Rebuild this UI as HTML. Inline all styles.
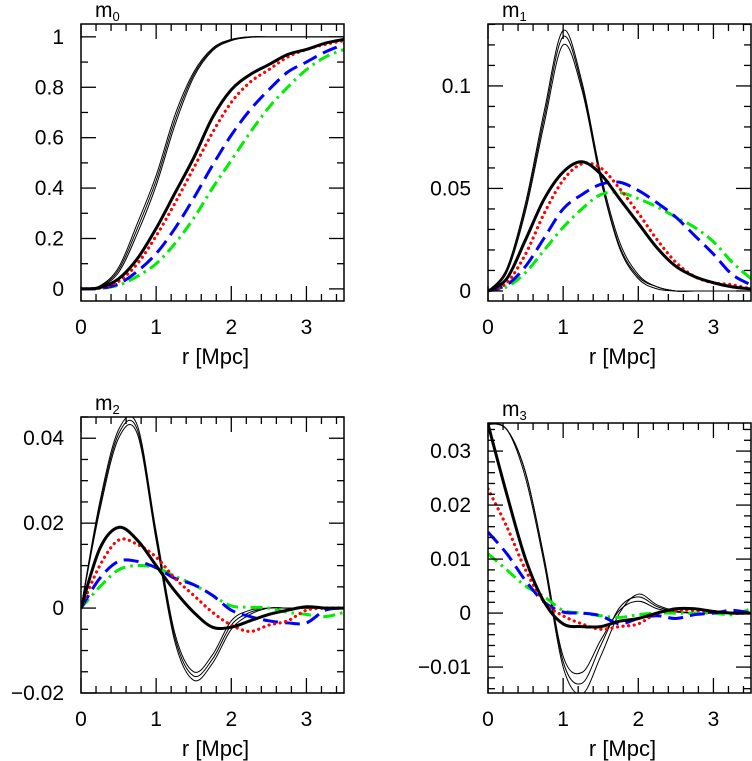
<!DOCTYPE html>
<html><head><meta charset="utf-8"><style>
html,body{margin:0;padding:0;background:#fff;}
svg{display:block;}
text{font-family:"Liberation Sans",sans-serif;fill:#000;}
</style></head><body>
<svg id="fig" width="752" height="761" viewBox="0 0 752 761" xmlns="http://www.w3.org/2000/svg"></svg>
<script>
const rGrid = [0,0.25,0.5,0.75,1.0,1.25,1.5,1.75,2.0,2.25,2.5,2.75,3.0,3.25,3.5];

// m0
const m0ThinA = [0,0.012,0.085,0.26,0.45,0.69,0.86,0.955,0.99,1,1,1,1,1,1];
const m0ThinB = [0,0.010,0.075,0.24,0.43,0.67,0.85,0.95,0.988,1,1,1,1,1,1];
const m0ThinC = [0,0.008,0.065,0.22,0.41,0.65,0.84,0.945,0.985,0.998,1,1,1,1,1];
const m0Thick = [0,0.005,0.04,0.12,0.24,0.38,0.52,0.68,0.79,0.85,0.89,0.93,0.95,0.975,0.99];
const m0Red   = [0,0.004,0.03,0.10,0.21,0.34,0.48,0.62,0.74,0.82,0.87,0.92,0.95,0.97,0.985];
const m0Blue  = [0,0.002,0.02,0.07,0.14,0.24,0.36,0.49,0.61,0.71,0.79,0.86,0.90,0.94,0.97];
const m0Green = [0,0.002,0.015,0.05,0.10,0.18,0.28,0.40,0.51,0.62,0.72,0.80,0.87,0.92,0.95];
// m1
const m1ThinA = [0,0.011,0.043,0.088,0.127,0.102,0.057,0.024,0.008,0.002,0,0,0,0,0];
const m1ThinB = [0,0.010,0.041,0.085,0.124,0.100,0.055,0.022,0.007,0.002,0,0,0,0,0];
const m1ThinC = [0,0.009,0.039,0.082,0.120,0.098,0.054,0.021,0.006,0.001,0,0,0,0,0];
const m1Thick = [0,0.006,0.025,0.045,0.058,0.063,0.057,0.045,0.033,0.021,0.012,0.007,0.004,0.002,0.001];
const m1Red   = [0,0.004,0.018,0.038,0.054,0.062,0.060,0.050,0.038,0.025,0.014,0.007,0.004,0.003,0.001];
const m1Blue  = [0,0.003,0.012,0.026,0.040,0.047,0.052,0.053,0.049,0.043,0.036,0.027,0.018,0.008,0.003];
const m1Green = [0,0.002,0.009,0.020,0.031,0.040,0.047,0.048,0.045,0.041,0.036,0.031,0.024,0.014,0.006];
// m2
const m2ThinA = [0,0.025,0.042,0.043,0.018,-0.006,-0.015,-0.011,-0.003,-0.0005,0,0,0,0,0];
const m2ThinB = [0,0.024,0.041,0.042,0.017,-0.007,-0.016,-0.012,-0.004,-0.001,0,0,0,0,0];
const m2ThinC = [0,0.023,0.040,0.041,0.016,-0.008,-0.017,-0.013,-0.005,-0.0015,0,0,0,0,0];
const m2Thick = [0,0.014,0.019,0.016,0.010,0.004,-0.001,-0.0045,-0.0045,-0.003,-0.0015,-0.0005,0.0003,0,0];
const m2Red   = [0,0.010,0.016,0.015,0.012,0.007,0.003,-0.001,-0.004,-0.0055,-0.004,-0.003,-0.0005,0,0];
const m2Blue  = [0,0.007,0.011,0.011,0.0095,0.007,0.0055,0.003,-0.0005,-0.002,-0.003,-0.0035,-0.0035,-0.0005,0];
const m2Green = [0,0.005,0.009,0.010,0.0095,0.0075,0.0055,0.003,0.0005,0.0002,0,-0.001,-0.0015,-0.002,-0.001];
// m3
const m3ThinA = [0.035,0.034,0.026,0.010,-0.008,-0.011,-0.005,0.0005,0.0022,0.0008,0.0002,0,0,0,0];
const m3ThinB = [0.035,0.034,0.026,0.010,-0.009,-0.013,-0.006,0.001,0.003,0.0012,0.0003,0,0,0,0];
const m3ThinC = [0.035,0.034,0.025,0.009,-0.010,-0.015,-0.008,0.000,0.0035,0.0015,0.0004,0,0,0,0];
const m3Thick = [0.035,0.022,0.010,0.002,-0.002,-0.0025,-0.0025,-0.0015,-0.001,0,0.0008,0.0008,0.0003,0,0];
const m3Red   = [0.023,0.016,0.008,0.002,-0.0005,-0.002,-0.003,-0.0025,-0.002,0,0.0005,0.0005,0.0003,0,0];
const m3Blue  = [0.015,0.011,0.006,0.002,0.0002,0,-0.0005,-0.002,-0.001,-0.0005,-0.001,-0.0003,0,0.0005,0];
const m3Green = [0.011,0.008,0.005,0.003,0.0005,0,-0.0005,-0.0008,-0.0003,0,0,0,0,-0.0003,0.0008];

const xTicks = ["0","1","2","3"];
const m0YTicks = ["0","0.2","0.4","0.6","0.8","1"];
const m1YTicks = ["0","0.05","0.1"];
const m2YTicks = ["\u22120.02","0","0.02","0.04"];
const m3YTicks = ["\u22120.01","0","0.01","0.02","0.03"];

const NS = "http://www.w3.org/2000/svg";
const fig = document.getElementById('fig');
function mk(tag, attrs, parent){const e=document.createElementNS(NS,tag);for(const k in attrs)e.setAttribute(k,attrs[k]);parent.appendChild(e);return e;}

function spline(pts){
  let d = "M"+pts[0][0].toFixed(2)+","+pts[0][1].toFixed(2);
  for(let i=0;i<pts.length-1;i++){
    const p0=pts[Math.max(i-1,0)],p1=pts[i],p2=pts[i+1],p3=pts[Math.min(i+2,pts.length-1)];
    const c1=[p1[0]+(p2[0]-p0[0])/6,p1[1]+(p2[1]-p0[1])/6];
    const c2=[p2[0]-(p3[0]-p1[0])/6,p2[1]-(p3[1]-p1[1])/6];
    d+="C"+c1[0].toFixed(2)+","+c1[1].toFixed(2)+" "+c2[0].toFixed(2)+","+c2[1].toFixed(2)+" "+p2[0].toFixed(2)+","+p2[1].toFixed(2);
  }
  return d;
}

const styles = {
  thin:{stroke:"#000","stroke-width":1,"fill":"none"},
  thick:{stroke:"#000","stroke-width":3,"fill":"none"},
  red:{stroke:"#ff0000","stroke-width":3.2,"fill":"none","stroke-dasharray":"0.1 5.5","stroke-linecap":"round"},
  blue:{stroke:"#0000ff","stroke-width":3,"fill":"none","stroke-dasharray":"15 7"},
  green:{stroke:"#00ee00","stroke-width":3,"fill":"none","stroke-dasharray":"12 5 2.5 5"}
};

function panel(p){
  const g = mk('g',{},fig);
  
  
  const xs = v => p.x0 + (v-0)/(3.5-0)*(p.x1-p.x0);
  const ys = v => p.y1 - (v-p.ymin)/(p.ymax-p.ymin)*(p.y1-p.y0);
  const clipId = 'clip-'+p.name;
  const cp = mk('clipPath',{id:clipId},g);
  mk('rect',{x:p.x0,y:p.y0,width:p.x1-p.x0,height:p.y1-p.y0},cp);
  const sg = mk('g',{'clip-path':'url(#'+clipId+')'},g);
  p.series.forEach(s=>{
    const pts = rGrid.map((r,i)=>[xs(r),ys(s.vals[i])]);
    const path = mk('path',Object.assign({d:spline(pts)},styles[s.style]),sg);
    
    
  });
  // ticks
  const tg = mk('g',{stroke:"#000","stroke-width":1.3},g);
  for(let k=0;k<=17;k++){
    const v=k*0.2; if(v>3.5) break;
    const major = Math.abs(v-Math.round(v))<1e-6;
    const L = major?15:7; const X=xs(v);
    mk('line',{x1:X,y1:p.y1,x2:X,y2:p.y1-L},tg);
    mk('line',{x1:X,y1:p.y0,x2:X,y2:p.y0+L},tg);
  }
  const n0 = Math.ceil(p.ymin/p.minor-1e-6), n1=Math.floor(p.ymax/p.minor+1e-6);
  for(let k=n0;k<=n1;k++){
    const v=k*p.minor; const r=v/p.major;
    const major = Math.abs(r-Math.round(r))<1e-6;
    const L = major?15:7; const Y=ys(v);
    mk('line',{x1:p.x0,y1:Y,x2:p.x0+L,y2:Y},tg);
    mk('line',{x1:p.x1,y1:Y,x2:p.x1-L,y2:Y},tg);
  }
  const fr = mk('rect',{x:p.x0,y:p.y0,width:p.x1-p.x0,height:p.y1-p.y0,fill:"none",stroke:"#000","stroke-width":1.5},g);
  
  
  xTicks.forEach((t,i)=>{
    const tx = mk('text',{x:xs(+t),y:p.y1+33,'text-anchor':'middle','font-size':21},g);
    tx.textContent=t;
    
    
  });
  p.yTicks.forEach(t=>{
    const v = parseFloat(t.replace('\u2212','-'));
    const tx = mk('text',{x:p.x0-17,y:ys(v)+7,'text-anchor':'end','font-size':21},g);
    tx.textContent=t;
    
    
  });
  const xt = mk('text',{x:(p.x0+p.x1)/2+3,y:p.y1+63,'text-anchor':'middle','font-size':22,'font-family':'"Liberation Serif",serif'},g);
  xt.textContent='r [Mpc]';
  
  
  const tt = mk('text',{x:p.x0+14,y:p.y0-7,'font-size':21,'font-family':'"Liberation Serif",serif'},g);
  tt.textContent='m';
  const sub = mk('tspan',{'font-size':13,dy:4},tt);
  sub.textContent=p.sub;
  
  
}

function S(id,style,vals){return {id,style,vals};}
panel({name:'m0',sub:'0',x0:81,x1:344,y0:24,y1:301,ymin:-0.048,ymax:1.051,major:0.2,minor:0.1,yTicks:m0YTicks,
  series:[S('thin-a','thin',m0ThinA),S('thin-b','thin',m0ThinB),S('thin-c','thin',m0ThinC),S('green','green',m0Green),S('blue','blue',m0Blue),S('red','red',m0Red),S('thick','thick',m0Thick)]});
panel({name:'m1',sub:'1',x0:488,x1:751,y0:24,y1:301,ymin:-0.0049,ymax:0.1302,major:0.05,minor:0.01,yTicks:m1YTicks,
  series:[S('thin-a','thin',m1ThinA),S('thin-b','thin',m1ThinB),S('thin-c','thin',m1ThinC),S('green','green',m1Green),S('blue','blue',m1Blue),S('red','red',m1Red),S('thick','thick',m1Thick)]});
panel({name:'m2',sub:'2',x0:81,x1:344,y0:417,y1:693,ymin:-0.02,ymax:0.045,major:0.02,minor:0.005,yTicks:m2YTicks,
  series:[S('thin-a','thin',m2ThinA),S('thin-b','thin',m2ThinB),S('thin-c','thin',m2ThinC),S('green','green',m2Green),S('blue','blue',m2Blue),S('red','red',m2Red),S('thick','thick',m2Thick)]});
panel({name:'m3',sub:'3',x0:488,x1:751,y0:423,y1:693,ymin:-0.0148,ymax:0.0352,major:0.01,minor:0.002,yTicks:m3YTicks,
  series:[S('thin-a','thin',m3ThinA),S('thin-b','thin',m3ThinB),S('thin-c','thin',m3ThinC),S('green','green',m3Green),S('blue','blue',m3Blue),S('red','red',m3Red),S('thick','thick',m3Thick)]});
</script>
</body></html>
